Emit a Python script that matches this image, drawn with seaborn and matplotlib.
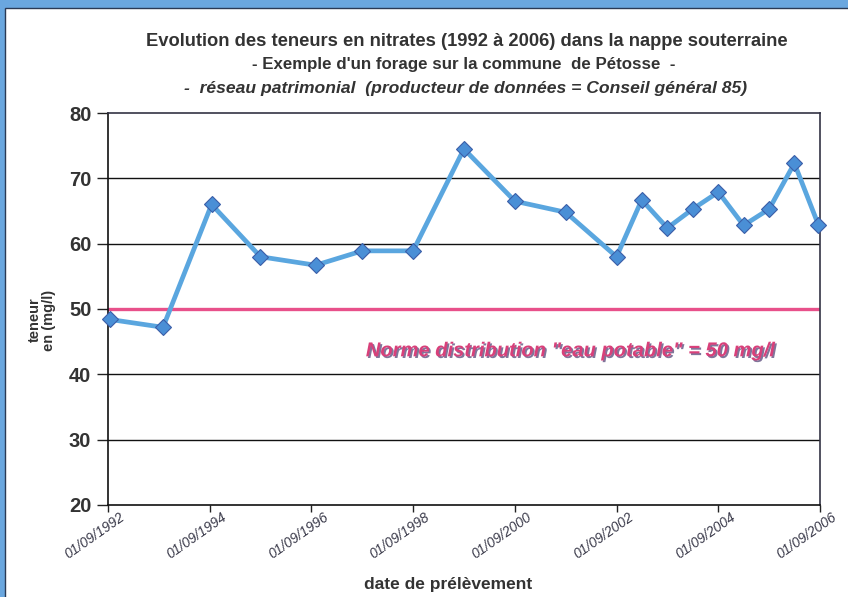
import matplotlib
matplotlib.use("Agg")
import matplotlib.pyplot as plt
import matplotlib.patheffects as pe
from matplotlib.patches import Rectangle
from matplotlib.transforms import ScaledTranslation, blended_transform_factory
import seaborn as sns
import pandas as pd

# ---- data ----
dates = ["1992-09-15", "1993-10-01", "1994-09-15", "1995-09-01", "1996-10-01",
         "1997-09-01", "1998-09-01", "1999-09-01", "2000-09-01", "2001-09-01",
         "2002-09-01", "2003-03-01", "2003-09-01", "2004-03-01", "2004-09-01",
         "2005-03-01", "2005-09-01", "2006-03-01", "2006-08-20"]
nitrates = [48.4, 47.2, 66.0, 58.0, 56.7, 58.9, 58.9, 74.5, 66.5, 64.8,
            58.0, 66.7, 62.4, 65.3, 67.9, 62.8, 65.3, 72.3, 62.9]
norme = 50
tick_years = ["1992", "1994", "1996", "1998", "2000", "2002", "2004", "2006"]
tick_labels = ["01/09/" + y for y in tick_years]
y_ticks = [20, 30, 40, 50, 60, 70, 80]

df = pd.DataFrame({"date": pd.to_datetime(dates), "teneur": nitrates})

sns.set_style("white")
plt.rcParams["font.family"] = ["Liberation Sans", "DejaVu Sans"]

fig = plt.figure(figsize=(8.48, 5.97), dpi=100)
fig.patch.set_facecolor("white")

# scanned blue frame
fig.patches.append(Rectangle((0, 1 - 8 / 597), 1, 8 / 597, transform=fig.transFigure,
                             facecolor="#6aa7df", edgecolor="none", zorder=0))
fig.patches.append(Rectangle((0, 0), 5 / 848, 1, transform=fig.transFigure,
                             facecolor="#6aa7df", edgecolor="none", zorder=0))
fig.patches.append(Rectangle((5 / 848, -0.01), 1.0, 1 - 8 / 597 + 0.01, transform=fig.transFigure,
                             facecolor="none", edgecolor="#2a3a55", linewidth=1.0, zorder=1))

ax = fig.add_axes([108 / 848, 1 - 505 / 597, (820 - 108) / 848, (505 - 113) / 597])
ax.set_facecolor("white")

# horizontal gridlines
for yv in [30, 40, 60, 70]:
    ax.axhline(yv, color="#111111", lw=1.0, zorder=1)
ax.axhline(norme, color="#e8508a", lw=2.4, zorder=2)

sns.lineplot(data=df, x="date", y="teneur", ax=ax, color="#5aa6df", lw=3.4,
             marker="D", markersize=8, markerfacecolor="#4a8fd6",
             markeredgecolor="#3b5ea8", markeredgewidth=0.8, zorder=3, clip_on=False)

ax.set_xlim(pd.Timestamp("1992-09-01"), pd.Timestamp("2006-09-01"))
ax.set_ylim(20, 80)
ax.set_yticks(y_ticks)
ax.set_yticklabels([str(v) for v in y_ticks], fontsize=14.5, fontweight="bold", color="#333333")
xt = [pd.Timestamp(y + "-09-01") for y in tick_years]
ax.set_xticks(xt)
ax.set_xticklabels([""] * len(xt))

# rotated date labels, placed below each tick
trans = blended_transform_factory(ax.transData, ax.transAxes)
for t, lab in zip(xt, tick_labels):
    tr = trans + ScaledTranslation(-13 / 100, -31 / 100, fig.dpi_scale_trans)
    ax.text(t, 0, lab, transform=tr, rotation=35, rotation_mode="anchor",
            ha="center", va="center", fontsize=10, fontstyle="italic",
            color="#3a3a4a", clip_on=False)

ax.tick_params(axis="y", direction="out", length=8, width=1.0, color="#222222", pad=4, left=True)
ax.tick_params(axis="x", direction="out", length=5, width=1.0, color="#222222", bottom=True)
for s in ["left", "bottom"]:
    ax.spines[s].set_color("#111111")
    ax.spines[s].set_linewidth(1.2)
for s in ["top", "right"]:
    ax.spines[s].set_color("#333344")
    ax.spines[s].set_linewidth(1.2)
ax.set_xlabel("")
ax.set_ylabel("")

# norm annotation
ax.text(pd.Timestamp("2001-10-05"), 43.6, 'Norme distribution "eau potable" = 50 mg/l',
        color="#d8407a", fontsize=14.5, fontweight="bold", fontstyle="italic",
        ha="center", va="center", zorder=4,
        path_effects=[pe.withSimplePatchShadow(offset=(1.2, -1.2), shadow_rgbFace="#4a3a70", alpha=0.7)])

# titles
fig.text(467 / 848, 1 - 42 / 597,
         "Evolution des teneurs en nitrates (1992 à 2006) dans la nappe souterraine",
         ha="center", va="center", fontsize=13.2, fontweight="bold", color="#333333")
fig.text(464 / 848, 1 - 65 / 597,
         "- Exemple d'un forage sur la commune  de Pétosse  -",
         ha="center", va="center", fontsize=12.2, fontweight="bold", color="#333333")
fig.text(466 / 848, 1 - 88 / 597,
         "-  réseau patrimonial  (producteur de données = Conseil général 85)",
         ha="center", va="center", fontsize=12.6, fontweight="bold", fontstyle="italic",
         color="#333333")

# axis labels
fig.text(42 / 848, 1 - 320 / 597, "teneur\nen (mg/l)", rotation=90, ha="center", va="center",
         fontsize=10.5, fontweight="bold", color="#333333", linespacing=1.0)
fig.text(448 / 848, 1 - 584 / 597, "date de prélèvement", ha="center", va="center",
         fontsize=12.5, fontweight="bold", color="#333333")

fig.savefig("out.png", dpi=100, facecolor=fig.get_facecolor())
